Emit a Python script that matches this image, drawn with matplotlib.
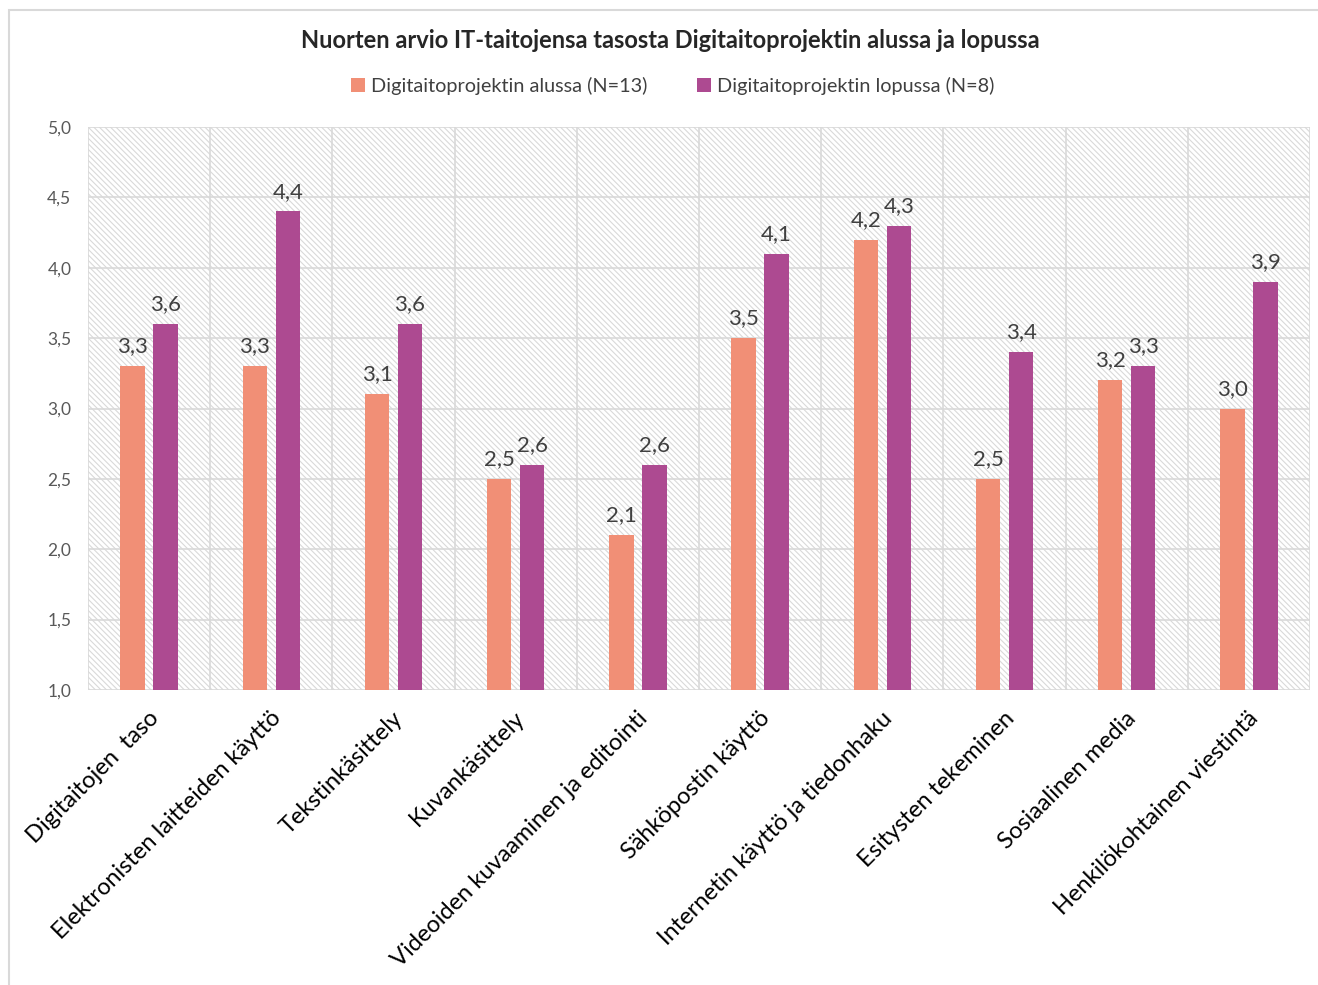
import numpy as np
import matplotlib.pyplot as plt
from matplotlib.patches import Rectangle

plt.rcParams['font.family'] = ['Lato', 'DejaVu Sans']
plt.rcParams['hatch.color'] = '#d9d9d9'
plt.rcParams['hatch.linewidth'] = 0.8

# data
kategoriat = ["Digitaitojen  taso", "Elektronisten laitteiden käyttö", "Tekstinkäsittely",
              "Kuvankäsittely", "Videoiden kuvaaminen ja editointi", "Sähköpostin käyttö",
              "Internetin käyttö ja tiedonhaku", "Esitysten tekeminen", "Sosiaalinen media",
              "Henkilökohtainen viestintä"]
alussa = [3.3, 3.3, 3.1, 2.5, 2.1, 3.5, 4.2, 2.5, 3.2, 3.0]
lopussa = [3.6, 4.4, 3.6, 2.6, 2.6, 4.1, 4.3, 3.4, 3.3, 3.9]
sarjat = ["Digitaitoprojektin alussa (N=13)", "Digitaitoprojektin lopussa (N=8)"]
yticks = [1.0, 1.5, 2.0, 2.5, 3.0, 3.5, 4.0, 4.5, 5.0]

c_alku = '#F18F76'
c_loppu = '#AD4A91'

fig = plt.figure(figsize=(13.18, 9.85), dpi=100)
# kehys
fig.patches.append(Rectangle((9/1318, -0.01), 1.02, 1 - 10/985 + 0.01, transform=fig.transFigure,
                             fill=False, edgecolor='#d9d9d9', linewidth=1.5))

ax = fig.add_axes([88/1318, 1 - 690/985, (1310 - 88)/1318, (690 - 127)/985])
ax.set_xlim(-0.5, len(kategoriat) - 0.5)
ax.set_ylim(1.0, 5.0)

# taustan viivoitus
ax.add_patch(Rectangle((-0.5, 1.0), len(kategoriat), 4.0, facecolor='white',
                       hatch='\\\\\\\\\\\\', edgecolor='#d9d9d9', linewidth=0, zorder=0))

x = np.arange(len(kategoriat))
w = 0.2
off = 0.135
b1 = ax.bar(x - off, np.array(alussa) - 1.0, w, bottom=1.0, color=c_alku, label=sarjat[0], zorder=3)
b2 = ax.bar(x + off, np.array(lopussa) - 1.0, w, bottom=1.0, color=c_loppu, label=sarjat[1], zorder=3)

for xi, v in zip(x - off, alussa):
    ax.text(xi, v + 0.07, f"{v:.1f}".replace('.', ','), ha='center', va='bottom',
            fontsize=16, color='#404040', zorder=4)
for xi, v in zip(x + off, lopussa):
    ax.text(xi, v + 0.07, f"{v:.1f}".replace('.', ','), ha='center', va='bottom',
            fontsize=16, color='#404040', zorder=4)

# ruudukko
for yv in yticks:
    ax.axhline(yv, color='#d9d9d9', linewidth=1.2, zorder=1)
for xv in np.arange(-0.5, len(kategoriat) + 0.5, 1.0):
    ax.axvline(xv, color='#d9d9d9', linewidth=1.2, zorder=1)

for s in ax.spines.values():
    s.set_visible(False)

ax.set_yticks(yticks)
ax.set_yticklabels([f"{v:.1f}".replace('.', ',') for v in yticks], fontsize=12.5, color='#595959')
ax.tick_params(axis='y', length=0, pad=12)
ax.set_xticks(x + 0.05)
ax.set_xticklabels(kategoriat, rotation=45, ha='right', va='center', rotation_mode='anchor',
                   fontsize=17, color='black')
ax.tick_params(axis='x', length=0, pad=18)

fig.text(670/1318, 1 - 40/985, "Nuorten arvio IT-taitojensa tasosta Digitaitoprojektin alussa ja lopussa",
         ha='center', va='center', fontsize=17, fontweight='bold', color='#262626')

leg = fig.legend(handles=[b1, b2], labels=sarjat, loc='center', bbox_to_anchor=(673/1318, 1 - 86/985),
                 ncol=2, frameon=False, fontsize=14.3, handlelength=0.7, handleheight=0.7,
                 handletextpad=0.3, columnspacing=2.5, labelcolor='#404040')

fig.savefig('out.png', dpi=100)
